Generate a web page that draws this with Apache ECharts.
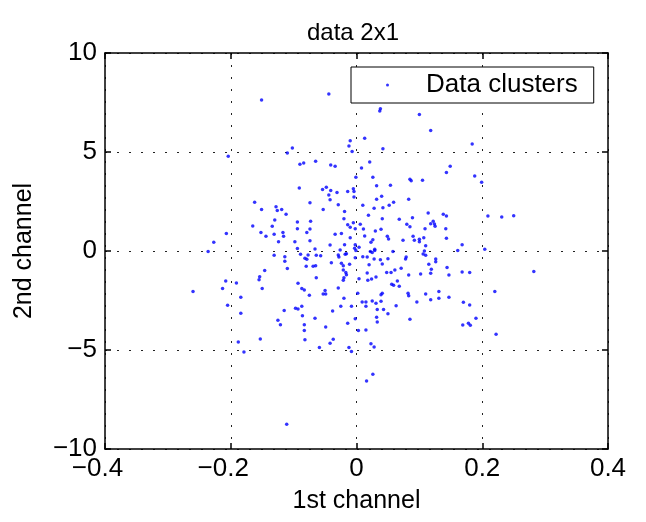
<!DOCTYPE html>
<html>
<head>
<meta charset="utf-8">
<script src="https://cdn.jsdelivr.net/npm/echarts@6/dist/echarts.min.js"></script>
<style>
html,body{margin:0;padding:0;background:#fff;}
#c{width:646px;height:522px;}
</style>
</head>
<body>
<div id="c"></div>
<script>
// ---- data ----
const titleText = 'data 2x1';
const xName = '1st channel';
const yName = '2nd channel';
const seriesName = 'Data clusters';
const xTicks = [-0.4, -0.2, 0, 0.2, 0.4];
const yTicks = [-10, -5, 0, 5, 10];

const channel1 = [
  -0.151,-0.044,-0.204,-0.102,-0.110,-0.090,-0.084,-0.065,-0.041,-0.034,
  -0.010,-0.012,-0.007,-0.001,-0.091,-0.054,-0.048,-0.041,-0.044,-0.042,
  -0.031,-0.014,-0.005,-0.004,-0.004,-0.162,-0.151,-0.128,-0.126,-0.119,
  -0.112,-0.074,-0.053,-0.029,-0.019,-0.130,-0.165,-0.134,-0.094,-0.073,
  -0.094,-0.074,-0.079,-0.152,-0.144,-0.131,-0.117,-0.116,-0.207,-0.227,
  -0.124,-0.098,-0.074,-0.094,-0.066,-0.042,-0.034,-0.024,-0.019,-0.026,
  -0.010,-0.002,-0.005,-0.002,-0.014,-0.010,-0.020,
  0.037,0.038,0.100,0.118,0.013,0.042,0.184,0.021,0.008,0.149,
  0.143,0.026,0.188,0.199,0.085,0.087,0.105,0.032,0.054,0.040,
  0.032,0.083,0.059,0.052,0.010,0.042,0.028,0.114,0.138,0.143,
  0.209,0.231,0.250,0.019,0.041,0.068,0.089,0.006,0.118,0.122,
  0.124,0.125,0.080,0.085,0.030,0.039,0.109,0.142,0.013,0.049,
  0.051,0.074,0.090,0.092,0.100,0.100,0.107,0.143,0.026,0.023,
  0.168,0.004,-0.003,0.110,0.029,0.204,0.011,
  -0.236,-0.260,-0.208,-0.213,-0.205,-0.191,-0.184,-0.184,-0.188,-0.179,
  -0.153,-0.146,-0.154,-0.155,-0.150,-0.131,-0.114,-0.114,-0.110,-0.089,
  -0.082,-0.079,-0.077,-0.080,-0.069,-0.065,-0.064,-0.057,-0.064,-0.093,
  -0.087,-0.083,-0.075,-0.115,-0.097,-0.093,-0.087,-0.086,-0.125,-0.121,
  -0.083,-0.083,-0.082,-0.066,-0.049,-0.059,-0.042,-0.037,-0.038,-0.050,
  -0.053,-0.049,-0.040,-0.029,-0.028,-0.018,-0.016,-0.024,-0.021,-0.021,
  -0.017,-0.016,-0.020,-0.021,-0.011,-0.001,-0.002,0.004,-0.029,-0.020,
  -0.025,-0.008,0.002,-0.002,-0.014,0.003,-0.012,-0.008,-0.111,
  0.161,0.108,0.110,0.106,0.058,0.022,0.025,0.029,0.010,0.017,
  0.028,0.038,0.050,0.079,0.078,0.126,0.126,0.115,0.119,0.118,
  0.020,0.041,0.071,0.061,0.055,0.048,0.083,0.102,0.144,0.147,
  0.168,0.180,0.282,0.017,0.024,0.018,0.031,0.056,0.059,0.065,
  0.068,0.082,0.083,0.110,0.131,0.118,0.131,0.147,0.096,0.170,
  0.180,0.220,0.222,0.190,0.169,0.178,0.181,0.009,0.015,0.015,
  0.025,0.031,0.039,0.033,0.043,0.050,0.063,0.032,0.033,0.085,
  0.015,0.023,0.028,0.026,0.016,0.041,0.039
];

const channel2 = [
  7.63,7.93,4.78,5.20,4.95,4.38,4.44,4.53,4.34,4.28,
  5.57,5.30,5.03,3.72,3.18,3.10,3.22,3.05,2.83,2.59,
  2.96,3.01,3.15,3.00,2.73,2.46,2.10,2.24,2.05,2.10,
  1.85,2.44,2.10,2.34,1.99,1.57,1.26,1.25,1.46,1.50,
  1.13,1.11,0.93,0.93,0.74,0.84,0.93,0.74,0.88,0.44,
  0.47,0.47,0.52,0.13,0.10,0.30,0.84,0.88,0.32,0.05,
  0.67,1.13,1.43,0.32,1.33,1.20,1.63,
  7.07,7.19,6.90,6.08,5.69,5.17,5.40,4.49,4.19,4.28,
  3.96,3.72,3.79,3.47,3.62,3.55,3.57,3.30,3.32,2.76,
  2.61,2.61,2.46,2.31,2.31,2.19,2.16,1.92,1.85,1.77,
  1.77,1.72,1.78,1.80,1.63,1.60,1.68,1.35,1.38,1.50,
  1.36,1.25,1.35,1.23,1.01,1.10,1.13,1.13,0.76,0.74,
  0.61,0.54,0.74,0.54,0.59,0.47,0.67,0.64,0.57,0.44,
  0.32,0.19,0.14,0.27,0.09,0.09,1.11,
  -0.03,-2.05,-1.52,-1.89,-2.74,-1.62,-2.34,-3.15,-4.60,-5.10,
  -4.44,-0.99,-1.30,-1.45,-1.89,-0.22,-0.29,-0.52,-0.89,-0.17,
  -0.37,-0.42,-0.20,-0.77,-0.77,-0.74,-0.22,-0.24,-1.35,-1.63,
  -1.89,-1.97,-2.24,-3.00,-2.89,-2.93,-2.79,-3.27,-3.50,-3.72,
  -3.72,-4.01,-4.48,-3.40,-3.84,-4.88,-4.66,-4.46,-3.03,-2.00,
  -2.17,-2.17,-0.59,-0.20,-0.30,-0.17,-0.14,-0.62,-0.74,-0.96,
  -1.08,-1.20,-1.35,-1.48,-0.67,0.02,-0.34,-1.40,-1.87,-2.39,
  -2.79,-2.79,-2.14,-3.42,-3.65,-4.02,-4.88,-5.07,-8.75,
  0.02,0.00,-0.22,-0.15,-0.02,-0.03,-0.07,0.02,-0.29,-0.30,
  -0.40,-0.44,-0.39,-0.30,-0.40,-0.40,-0.54,-0.67,-0.92,-1.13,
  -0.69,-0.66,-0.87,-0.96,-1.08,-1.09,-1.21,-1.16,-0.83,-1.21,
  -1.06,-1.08,-1.04,-1.11,-1.41,-1.48,-1.31,-1.68,-1.73,-1.52,
  -1.78,-2.14,-2.26,-2.17,-2.05,-2.46,-2.39,-2.34,-2.58,-2.59,
  -2.73,-2.04,-4.21,-3.40,-3.74,-3.65,-3.75,-2.58,-2.58,-2.79,
  -2.53,-2.64,-2.54,-2.95,-2.95,-3.17,-2.76,-3.35,-3.59,-3.45,
  -3.99,-4.68,-4.85,-6.23,-6.57,-2.14,-2.21
];

// ---- chart ----
const FONT = '"Liberation Sans", Arial, Helvetica, sans-serif';
const points = channel1.map((x, i) => [x, channel2[i]]);
const fmtTick = (v, dec) => {
  const n = Number(v.toFixed(dec));
  if (n === 0) return '0';
  return n < 0 ? '\u2212' + String(-n) : String(n);
};
const fmtX = v => {
  const s = fmtTick(v, 1);
  return s.charAt(0) === '\u2212' ? '{n|' + s + '}' : s;
};
const gridLine = { show: true, lineStyle: { color: '#222', width: 1, type: [2, 10] } };
const axLine = { show: true, onZero: false, lineStyle: { color: '#000', width: 1.5 } };
const tick = { show: true, inside: true, length: 6, lineStyle: { color: '#000', width: 1.5 } };
const xMin = xTicks[0], xMax = xTicks[xTicks.length - 1], xInt = xTicks[1] - xTicks[0];
const yMin = yTicks[0], yMax = yTicks[yTicks.length - 1], yInt = yTicks[1] - yTicks[0];

const chart = echarts.init(document.getElementById('c'), null, { renderer: 'canvas' });
chart.setOption({
  animation: false,
  backgroundColor: '#fff',
  title: {
    text: titleText,
    left: 353, top: 21, textAlign: 'center', padding: 0,
    textStyle: { fontFamily: FONT, fontSize: 24, fontWeight: 'normal', color: '#000' }
  },
  legend: {
    data: [seriesName],
    left: 351, top: 67,
    padding: [5, 16, 5, 35],
    borderColor: '#000', borderWidth: 1, backgroundColor: '#fff',
    itemWidth: 3, itemHeight: 3,
    selectedMode: false,
    textStyle: { fontFamily: FONT, fontSize: 26, color: '#000', padding: [0, 0, 0, 32], lineHeight: 26 }
  },
  grid: { left: 105, top: 53, width: 503, height: 396, containLabel: false },
  xAxis: [{
    type: 'value', position: 'bottom', min: xMin, max: xMax, interval: xInt,
    axisLine: axLine, axisTick: tick, splitLine: gridLine,
    axisLabel: {
      color: '#000', fontFamily: FONT, fontSize: 26, margin: 7, formatter: fmtX,
      rich: { n: { fontFamily: FONT, fontSize: 26, color: '#000', padding: [0, 15, 0, 0] } }
    },
    name: xName, nameLocation: 'middle', nameGap: 40,
    nameTextStyle: { fontFamily: FONT, fontSize: 25, color: '#000' }
  }, {
    type: 'value', position: 'top', min: xMin, max: xMax, interval: xInt,
    axisLine: axLine, axisTick: tick, splitLine: { show: false }, axisLabel: { show: false }
  }],
  yAxis: [{
    type: 'value', position: 'left', min: yMin, max: yMax, interval: yInt,
    axisLine: axLine, axisTick: tick, splitLine: gridLine,
    axisLabel: { color: '#000', fontFamily: FONT, fontSize: 26, margin: 8, formatter: v => fmtTick(v, 0) },
    name: yName, nameLocation: 'middle', nameGap: 68,
    nameTextStyle: { fontFamily: FONT, fontSize: 25, color: '#000' }
  }, {
    type: 'value', position: 'right', min: yMin, max: yMax, interval: yInt,
    axisLine: axLine, axisTick: tick, splitLine: { show: false }, axisLabel: { show: false }
  }],
  series: [{
    name: seriesName,
    type: 'scatter',
    data: points,
    symbol: 'circle',
    symbolSize: 3.5,
    itemStyle: { color: '#0000ff' },
    silent: true
  }]
});
</script>
</body>
</html>
